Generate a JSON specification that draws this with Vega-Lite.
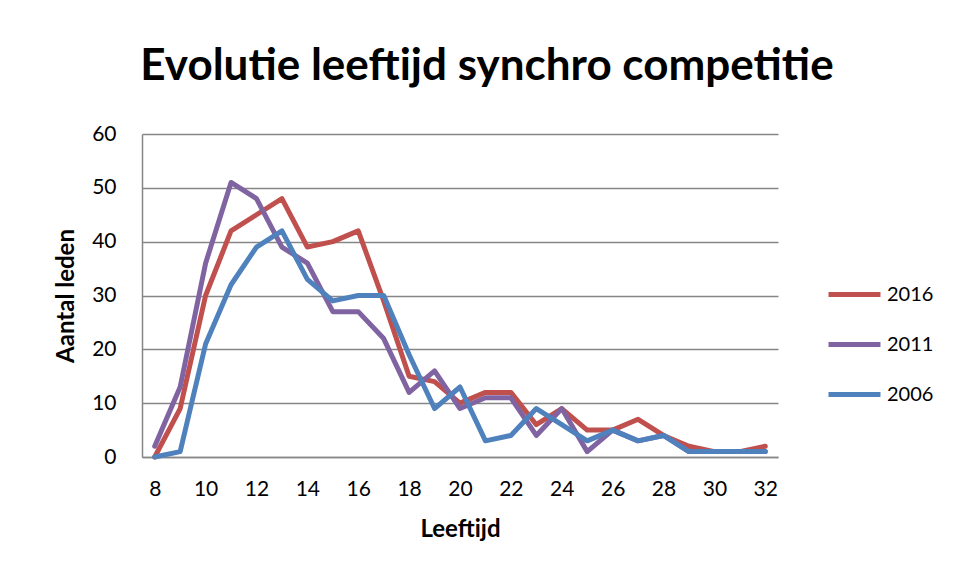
{
  "$schema": "https://vega.github.io/schema/vega-lite/v6.json",
  "width": 636,
  "height": 323,
  "autosize": {"type": "none"},
  "padding": {"left": 142, "top": 134, "right": 180, "bottom": 123},
  "background": "white",
  "config": {
    "font": "Lato",
    "view": {"stroke": null},
    "axis": {"domainColor": "#868686", "gridColor": "#868686", "ticks": false, "labelColor": "#000000", "titleColor": "#000000", "labelFont": "Lato", "titleFont": "Lato"}
  },
  "title": {"text": "Evolutie leeftijd synchro competitie", "fontSize": 44, "font": "Lato", "fontWeight": "bold", "color": "#000000", "anchor": "middle", "dx": 27, "offset": 34},
  "data": {"values": [
    {"year":"2016","age":8,"count":0},{"year":"2016","age":9,"count":9},{"year":"2016","age":10,"count":30},{"year":"2016","age":11,"count":42},{"year":"2016","age":12,"count":45},{"year":"2016","age":13,"count":48},{"year":"2016","age":14,"count":39},{"year":"2016","age":15,"count":40},{"year":"2016","age":16,"count":42},{"year":"2016","age":17,"count":29},{"year":"2016","age":18,"count":15},{"year":"2016","age":19,"count":14},{"year":"2016","age":20,"count":10},{"year":"2016","age":21,"count":12},{"year":"2016","age":22,"count":12},{"year":"2016","age":23,"count":6},{"year":"2016","age":24,"count":9},{"year":"2016","age":25,"count":5},{"year":"2016","age":26,"count":5},{"year":"2016","age":27,"count":7},{"year":"2016","age":28,"count":4},{"year":"2016","age":29,"count":2},{"year":"2016","age":30,"count":1},{"year":"2016","age":31,"count":1},{"year":"2016","age":32,"count":2},
    {"year":"2011","age":8,"count":2},{"year":"2011","age":9,"count":13},{"year":"2011","age":10,"count":36},{"year":"2011","age":11,"count":51},{"year":"2011","age":12,"count":48},{"year":"2011","age":13,"count":39},{"year":"2011","age":14,"count":36},{"year":"2011","age":15,"count":27},{"year":"2011","age":16,"count":27},{"year":"2011","age":17,"count":22},{"year":"2011","age":18,"count":12},{"year":"2011","age":19,"count":16},{"year":"2011","age":20,"count":9},{"year":"2011","age":21,"count":11},{"year":"2011","age":22,"count":11},{"year":"2011","age":23,"count":4},{"year":"2011","age":24,"count":9},{"year":"2011","age":25,"count":1},{"year":"2011","age":26,"count":5},{"year":"2011","age":27,"count":3},{"year":"2011","age":28,"count":4},{"year":"2011","age":29,"count":1},{"year":"2011","age":30,"count":1},{"year":"2011","age":31,"count":1},{"year":"2011","age":32,"count":1},
    {"year":"2006","age":8,"count":0},{"year":"2006","age":9,"count":1},{"year":"2006","age":10,"count":21},{"year":"2006","age":11,"count":32},{"year":"2006","age":12,"count":39},{"year":"2006","age":13,"count":42},{"year":"2006","age":14,"count":33},{"year":"2006","age":15,"count":29},{"year":"2006","age":16,"count":30},{"year":"2006","age":17,"count":30},{"year":"2006","age":18,"count":19},{"year":"2006","age":19,"count":9},{"year":"2006","age":20,"count":13},{"year":"2006","age":21,"count":3},{"year":"2006","age":22,"count":4},{"year":"2006","age":23,"count":9},{"year":"2006","age":24,"count":6},{"year":"2006","age":25,"count":3},{"year":"2006","age":26,"count":5},{"year":"2006","age":27,"count":3},{"year":"2006","age":28,"count":4},{"year":"2006","age":29,"count":1},{"year":"2006","age":30,"count":1},{"year":"2006","age":31,"count":1},{"year":"2006","age":32,"count":1}
  ]},
  "encoding": {
    "x": {"field": "age", "type": "quantitative", "scale": {"domain": [7.5, 32.5], "nice": false, "zero": false},
      "axis": {"values": [8,10,12,14,16,18,20,22,24,26,28,30,32], "grid": false, "title": "Leeftijd", "labelFontSize": 21, "labelPadding": 21, "titleFontSize": 24, "titleFontWeight": "bold", "titlePadding": 18, "domainWidth": 1.5}},
    "y": {"field": "count", "type": "quantitative", "scale": {"domain": [0, 60], "nice": false},
      "axis": {"values": [0,10,20,30,40,50,60], "grid": true, "gridWidth": 1.5, "title": "Aantal leden", "labelFontSize": 21, "labelPadding": 26, "titleFontSize": 24, "titleFontWeight": "bold", "titlePadding": 13, "domainWidth": 1.5}},
    "color": {"field": "year", "type": "nominal", "scale": {"domain": ["2016","2011","2006"], "range": ["#C0504D","#8064A2","#4F81BD"]},
      "legend": {"title": null, "orient": "none", "legendX": 684, "legendY": 132, "symbolType": "stroke", "symbolSize": 2700, "symbolStrokeWidth": 5, "labelFontSize": 20, "labelFont": "Lato", "labelColor": "#000000", "labelOffset": 4, "rowPadding": 11}}
  },
  "layer": [
    {"transform": [{"filter": "datum.year === '2016'"}], "mark": {"type": "line", "strokeWidth": 5, "strokeCap": "round", "strokeJoin": "round"}},
    {"transform": [{"filter": "datum.year === '2011'"}], "mark": {"type": "line", "strokeWidth": 5, "strokeCap": "round", "strokeJoin": "round"}},
    {"transform": [{"filter": "datum.year === '2006'"}], "mark": {"type": "line", "strokeWidth": 5, "strokeCap": "round", "strokeJoin": "round"}}
  ]
}
